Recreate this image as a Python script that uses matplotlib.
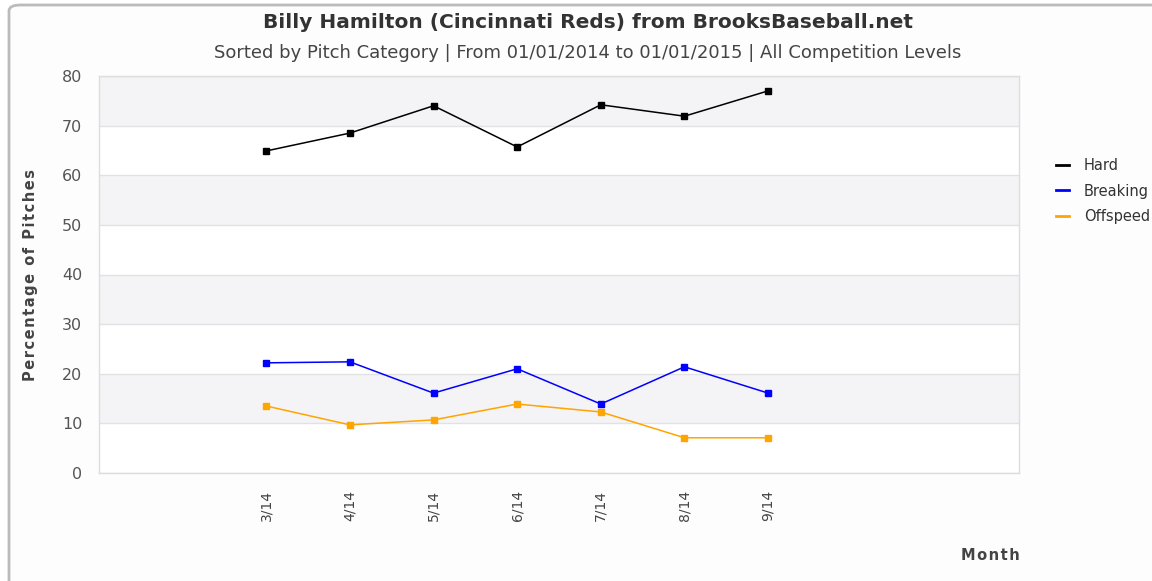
import matplotlib
matplotlib.use("Agg")
import matplotlib.pyplot as plt
from matplotlib.patches import FancyBboxPatch

plt.rcParams['font.family'] = ['DejaVu Sans']

months = ['3/14', '4/14', '5/14', '6/14', '7/14', '8/14', '9/14']
hard = [64.9, 68.5, 74.0, 65.7, 74.2, 71.9, 77.0]
breaking = [22.2, 22.4, 16.1, 21.0, 13.9, 21.4, 16.1]
offspeed = [13.5, 9.7, 10.7, 13.9, 12.3, 7.1, 7.1]

series = [('Hard', hard, '#000000'),
          ('Breaking', breaking, '#0000ff'),
          ('Offspeed', offspeed, '#ffa500')]

fig = plt.figure(figsize=(11.52, 5.81), dpi=100)
fig.patch.set_facecolor('white')

# outer border of the widget (cut off at right and bottom)
border = FancyBboxPatch((9 / 1152, -0.05), 1.2, 1 - 5 / 581 + 0.05,
                        boxstyle='round,pad=0,rounding_size=0.01',
                        transform=fig.transFigure, facecolor='#fdfdfd',
                        edgecolor='#bbbbbb', linewidth=2, zorder=-10)
fig.patches.append(border)

ax = fig.add_axes([99 / 1152, 1 - 473 / 581, 920 / 1152, 397 / 581])
ax.set_facecolor('white')

# alternating bands
for lo in range(10, 80, 20):
    ax.axhspan(lo, lo + 10, color='#f4f3f5', zorder=0, lw=0)
for yv in range(0, 81, 10):
    ax.axhline(yv, color='#e2e2e2', lw=1, zorder=1)

x = list(range(len(months)))
for name, vals, col in series:
    ax.plot(x, vals, color=col, lw=1.1, marker='s', markersize=5,
            label=name, zorder=3)

ax.set_xlim(-2, 9)
ax.set_ylim(0, 80)
ax.set_xticks(x)
ax.set_xticklabels(months, rotation=90, fontsize=10, color='#444444')
ax.set_yticks(range(0, 81, 10))
ax.tick_params(axis='y', labelsize=11.5, labelcolor='#555555', length=0, pad=12)
ax.tick_params(axis='x', length=0, pad=12)
for s in ax.spines.values():
    s.set_color('#dddddd')
    s.set_linewidth(1)

fig.text(31 / 1152, 1 - 275 / 581, '\u200a'.join('Percentage of Pitches'),
         fontsize=10.5, fontweight='bold', color='#444444', rotation=90,
         ha='center', va='center')

fig.text(1020 / 1152, 1 - 556 / 581, '\u200a'.join('Month'), fontsize=10.5,
         fontweight='bold', color='#444444', ha='right', va='center')

fig.text(588 / 1152, 1 - 22 / 581, 'Billy Hamilton (Cincinnati Reds) from BrooksBaseball.net',
         fontsize=14.5, fontweight='bold', color='#333333', ha='center', va='center')
fig.text(588 / 1152, 1 - 53 / 581,
         'Sorted by Pitch Category | From 01/01/2014 to 01/01/2015 | All Competition Levels',
         fontsize=13, color='#444444', ha='center', va='center')

leg = ax.legend(loc='upper left', bbox_to_anchor=(1.034, 0.808), frameon=False,
                fontsize=10.5, handlelength=0.9, handletextpad=1.0,
                labelspacing=0.72, borderaxespad=0)
for t in leg.get_texts():
    t.set_color('#333333')
for h in leg.get_lines():
    h.set_marker('')
    h.set_linewidth(2)

fig.savefig('out.png', dpi=100)
